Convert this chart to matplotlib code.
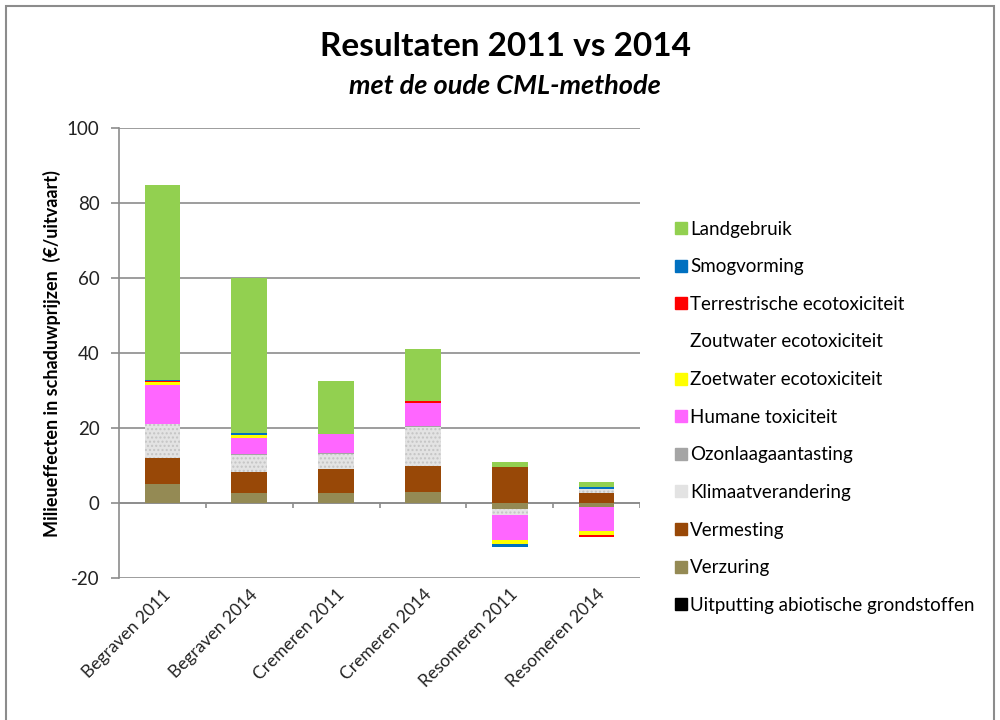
import matplotlib
matplotlib.use('Agg')
import matplotlib.pyplot as plt
import numpy as np
from matplotlib.patches import Rectangle
from matplotlib.lines import Line2D

plt.rcParams['font.family'] = ['Lato', 'DejaVu Sans']
plt.rcParams['axes.unicode_minus'] = False

# categories on the x axis
categories = ['Begraven 2011', 'Begraven 2014', 'Cremeren 2011',
              'Cremeren 2014', 'Resomeren 2011', 'Resomeren 2014']

# impact categories, stacked from the bottom up
uitputting = [0.0, 0.0, 0.0, 0.0, 0.0, 0.0]
verzuring = [5.0, 2.6, 2.6, 2.9, -1.5, -1.1]
vermesting = [7.1, 5.8, 6.6, 7.1, 9.6, 2.7]
klimaat = [9.0, 4.5, 4.0, 10.4, -1.7, 1.2]
ozon = [0.1, 0.1, 0.1, 0.1, 0.0, 0.0]
humane = [10.4, 4.5, 5.1, 6.1, -6.6, -6.2]
zoetwater = [0.8, 0.7, 0.0, 0.1, -1.2, -1.2]
zoutwater = [0.0, 0.0, 0.0, 0.0, 0.0, 0.0]
terrestrisch = [0.1, 0.1, 0.1, 0.5, 0.0, -0.45]
smog = [0.4, 0.4, 0.0, 0.0, -0.6, 0.5]
landgebruik = [52.0, 41.3, 14.1, 14.0, 1.3, 1.2]

series = [
    ('Uitputting abiotische grondstoffen', uitputting, '#000000'),
    ('Verzuring', verzuring, '#948A54'),
    ('Vermesting', vermesting, '#984807'),
    ('Klimaatverandering', klimaat, '#E3E3E3'),
    ('Ozonlaagaantasting', ozon, '#A5A5A5'),
    ('Humane toxiciteit', humane, '#FF66FF'),
    ('Zoetwater ecotoxiciteit', zoetwater, '#FFFF00'),
    ('Zoutwater ecotoxiciteit', zoutwater, '#FFFFFF'),
    ('Terrestrische ecotoxiciteit', terrestrisch, '#FF0000'),
    ('Smogvorming', smog, '#0070C0'),
    ('Landgebruik', landgebruik, '#92D050'),
]

fig = plt.figure(figsize=(10, 7.2), dpi=100)
ax = fig.add_axes([0.119, 0.197, 0.521, 0.625])

x = np.arange(len(categories))
pos_bottom = np.zeros(len(categories))
neg_bottom = np.zeros(len(categories))
handles = []
for name, vals, color in series:
    vals = np.array(vals, dtype=float)
    bottom = np.where(vals >= 0, pos_bottom, neg_bottom)
    if name == 'Klimaatverandering':
        ax.bar(x, vals, 0.41, bottom=bottom, color=color, hatch='....',
               edgecolor='#C4C4C4', linewidth=0, zorder=3)
    else:
        ax.bar(x, vals, 0.41, bottom=bottom, color=color, linewidth=0, zorder=3)
    pos_bottom += np.where(vals >= 0, vals, 0)
    neg_bottom += np.where(vals < 0, vals, 0)
    handles.append(Line2D([], [], marker='s', linestyle='none', markersize=8,
                          markerfacecolor=color, markeredgecolor=color, label=name))

ax.set_xlim(-0.5, len(categories) - 0.5)
ax.set_ylim(-20, 100)
ax.set_yticks([-20, 0, 20, 40, 60, 80, 100])
ax.yaxis.grid(True, color='#8C8C8C', linewidth=1.2, zorder=0)
ax.set_axisbelow(True)
for side in ['top', 'right', 'bottom']:
    ax.spines[side].set_visible(False)
ax.spines['left'].set_color('#8C8C8C')
ax.spines['left'].set_linewidth(1.2)
ax.tick_params(axis='y', colors='#8C8C8C', labelcolor='#222222',
               labelsize=13.5, length=6, width=1.2, pad=8)
ax.tick_params(axis='x', length=0, labelsize=12.5, labelcolor='#222222', pad=6)

# zero line with category separators
ax.axhline(0, color='#8C8C8C', linewidth=1.2, zorder=2)
ax.vlines(x + 0.5, -1.3, 0, color='#8C8C8C', linewidth=1.2, zorder=2)

ax.set_xticks(x)
ax.set_xticklabels(categories, rotation=45, ha='right', rotation_mode='anchor')

ax.set_ylabel('Milieueffecten in schaduwprijzen  (€/uitvaart)', fontsize=13,
              fontweight='bold', labelpad=4)

fig.text(0.505, 0.935, 'Resultaten 2011 vs 2014', ha='center', va='center',
         fontsize=24, fontweight='bold')
fig.text(0.505, 0.880, 'met de oude CML-methode', ha='center', va='center',
         fontsize=19.5, fontweight='bold', style='italic')

leg = fig.legend(handles=handles[::-1], loc='upper left',
                 bbox_to_anchor=(0.667, 0.704), frameon=False, fontsize=13.5,
                 handletextpad=0.15, handlelength=0.7, labelspacing=1.1,
                 borderaxespad=0)

fig.patches.append(Rectangle((0.006, -0.01), 0.988, 1.002, transform=fig.transFigure,
                             fill=False, edgecolor='#8C8C8C', linewidth=1.5))

plt.savefig('out.png')
